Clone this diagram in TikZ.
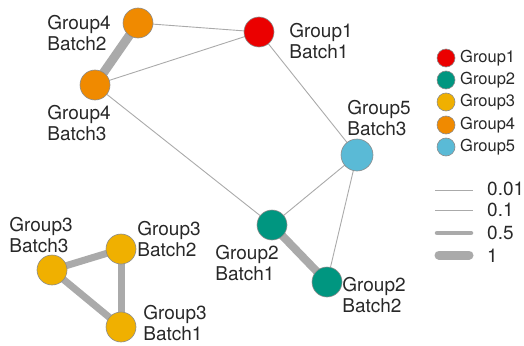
\documentclass[tikz,border=0pt]{standalone}
\usepackage{fontspec}
\setmainfont{TeX Gyre Heros}
\usetikzlibrary{backgrounds}
\definecolor{gA}{RGB}{235,0,0}
\definecolor{gB}{RGB}{0,150,128}
\definecolor{gC}{RGB}{240,176,0}
\definecolor{gD}{RGB}{240,138,0}
\definecolor{gE}{RGB}{90,186,214}
\definecolor{edgec}{RGB}{170,170,170}
\definecolor{txt}{RGB}{40,40,40}
\begin{document}
\begin{tikzpicture}[x=1pt,y=-1pt,
  vtx/.style={circle,draw=black!45,line width=0.6pt,minimum size=30pt,inner sep=0pt},
  leg/.style={circle,draw=black!45,line width=0.6pt,minimum size=18pt,inner sep=0pt},
  lab/.style={font=\fontsize{19}{21}\selectfont,text=txt,align=left,inner sep=0pt},
  legtxt/.style={font=\fontsize{16.5}{18}\selectfont,text=txt,anchor=west,inner sep=0pt},
  valtxt/.style={font=\fontsize{19}{21}\selectfont,text=txt,anchor=west,inner sep=0pt},
  thinedge/.style={draw=edgec,line width=0.9pt},
  wideedge/.style={draw=edgec,line width=#1,line cap=round}]
\useasboundingbox (0,0) rectangle (524,345);
% nodes
\node[vtx,fill=gD] (g4b2) at (138,23) {};
\node[vtx,fill=gD] (g4b3) at (95,85) {};
\node[vtx,fill=gA] (g1b1) at (259,32) {};
\node[vtx,fill=gE,minimum size=32pt] (g5b3) at (357,155) {};
\node[vtx,fill=gB] (g2b1) at (272,225) {};
\node[vtx,fill=gB] (g2b2) at (327,282) {};
\node[vtx,fill=gC] (g3b3) at (52,270) {};
\node[vtx,fill=gC] (g3b2) at (121,249) {};
\node[vtx,fill=gC] (g3b1) at (121,327) {};
% edges
\begin{scope}[on background layer]
\draw[thinedge] (g4b2.center) -- (g1b1.center);
\draw[thinedge] (g4b3.center) -- (g1b1.center);
\draw[thinedge] (g4b3.center) -- (g2b1.center);
\draw[thinedge] (g1b1.center) -- (g5b3.center);
\draw[thinedge] (g5b3.center) -- (g2b1.center);
\draw[thinedge] (g5b3.center) -- (g2b2.center);
\draw[wideedge=9pt] (g4b2.center) -- (g4b3.center);
\draw[wideedge=8pt] (g2b1.center) -- (g2b2.center);
\draw[wideedge=7pt] (g3b3.center) -- (g3b2.center);
\draw[wideedge=7pt] (g3b3.center) -- (g3b1.center);
\draw[wideedge=7pt] (g3b2.center) -- (g3b1.center);
\end{scope}
% labels
\node[lab] (l4b2) at (79,33) {Group4\\Batch2};
\node[lab] (l4b3) at (79,123) {Group4\\Batch3};
\node[lab] (l1b1) at (321,41) {Group1\\Batch1};
\node[lab] (l5b3) at (379,118) {Group5\\Batch3};
\node[lab] (l2b1) at (247,263) {Group2\\Batch1};
\node[lab] (l2b2) at (374,295) {Group2\\Batch2};
\node[lab] (l3b3) at (41,235) {Group3\\Batch3};
\node[lab] (l3b2) at (169,239) {Group3\\Batch2};
\node[lab] (l3b1) at (175,323) {Group3\\Batch1};
% legend
\node[leg,fill=gA] (k1) at (446,58) {};
\node[leg,fill=gB] (k2) at (446,80) {};
\node[leg,fill=gC] (k3) at (446,102) {};
\node[leg,fill=gD] (k4) at (446,125) {};
\node[leg,fill=gE] (k5) at (446,147) {};
\node[legtxt] (t1) at (460,58) {Group1};
\node[legtxt] (t2) at (460,80) {Group2};
\node[legtxt] (t3) at (460,102) {Group3};
\node[legtxt] (t4) at (460,125) {Group4};
\node[legtxt] (t5) at (460,147) {Group5};
\coordinate (a1) at (435,190); \coordinate (b1) at (473,190);
\coordinate (a2) at (435,210); \coordinate (b2) at (473,210);
\coordinate (a3) at (437,233); \coordinate (b3) at (471,233);
\coordinate (a4) at (439,255); \coordinate (b4) at (469,255);
\draw[draw=edgec,line width=0.8pt] (a1) -- (b1);
\draw[draw=edgec,line width=1pt] (a2) -- (b2);
\draw[wideedge=4.5pt] (a3) -- (b3);
\draw[wideedge=9pt] (a4) -- (b4);
\node[valtxt] (v1) at (487,189) {0.01};
\node[valtxt] (v2) at (487,210) {0.1};
\node[valtxt] (v3) at (487,233) {0.5};
\node[valtxt] (v4) at (487,256) {1};
\end{tikzpicture}
\end{document}
